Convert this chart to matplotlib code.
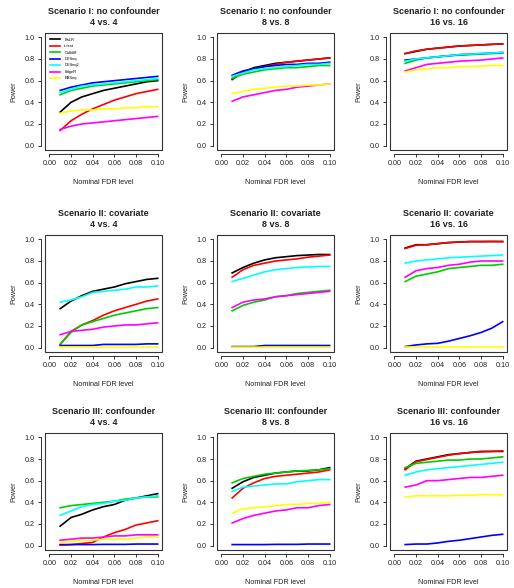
import numpy as np
import matplotlib.pyplot as plt
from matplotlib.patches import Rectangle

plt.rcParams['font.family'] = ['Liberation Sans', 'DejaVu Sans']

# nominal FDR levels
fdr = [0.01, 0.02, 0.03, 0.04, 0.05, 0.06, 0.07, 0.08, 0.09, 0.10]

methods = ['BsLR', 't-test', 'Cuffdiff', 'DESeq', 'DESeq2', 'EdgeR', 'EBSeq']
colors = ['black', 'red', '#00cd00', 'blue', 'cyan', 'magenta', 'yellow']

scenarios = ['Scenario I: no confounder', 'Scenario II: covariate', 'Scenario III: confounder']
sizes = ['4 vs. 4', '8 vs. 8', '16 vs. 16']

# Scenario I
s1_4 = [
    [0.31, 0.40, 0.45, 0.48, 0.51, 0.53, 0.55, 0.57, 0.59, 0.60],
    [0.14, 0.23, 0.29, 0.34, 0.38, 0.42, 0.45, 0.48, 0.50, 0.52],
    [0.47, 0.51, 0.53, 0.55, 0.56, 0.57, 0.58, 0.59, 0.60, 0.61],
    [0.51, 0.54, 0.56, 0.58, 0.59, 0.60, 0.61, 0.62, 0.63, 0.64],
    [0.49, 0.52, 0.55, 0.56, 0.57, 0.58, 0.59, 0.60, 0.61, 0.62],
    [0.15, 0.18, 0.20, 0.21, 0.22, 0.23, 0.24, 0.25, 0.26, 0.27],
    [0.30, 0.32, 0.33, 0.33, 0.34, 0.34, 0.35, 0.35, 0.36, 0.36],
]
s1_8 = [
    [0.61, 0.68, 0.72, 0.74, 0.76, 0.77, 0.78, 0.79, 0.80, 0.81],
    [0.62, 0.68, 0.71, 0.73, 0.75, 0.77, 0.78, 0.79, 0.80, 0.81],
    [0.62, 0.66, 0.68, 0.70, 0.71, 0.72, 0.72, 0.73, 0.74, 0.74],
    [0.65, 0.69, 0.71, 0.73, 0.74, 0.75, 0.75, 0.76, 0.76, 0.77],
    [0.64, 0.67, 0.70, 0.71, 0.72, 0.73, 0.74, 0.75, 0.75, 0.76],
    [0.41, 0.45, 0.47, 0.49, 0.51, 0.52, 0.54, 0.55, 0.56, 0.57],
    [0.48, 0.50, 0.52, 0.53, 0.54, 0.55, 0.55, 0.56, 0.56, 0.57],
]
s1_16 = [
    [0.85, 0.87, 0.89, 0.90, 0.91, 0.92, 0.925, 0.93, 0.935, 0.94],
    [0.85, 0.875, 0.89, 0.90, 0.91, 0.92, 0.925, 0.93, 0.935, 0.94],
    [0.76, 0.79, 0.81, 0.82, 0.83, 0.835, 0.84, 0.845, 0.85, 0.855],
    [0.79, 0.80, 0.81, 0.82, 0.83, 0.84, 0.845, 0.85, 0.855, 0.86],
    [0.78, 0.80, 0.81, 0.82, 0.83, 0.84, 0.845, 0.85, 0.855, 0.86],
    [0.69, 0.72, 0.75, 0.76, 0.77, 0.78, 0.785, 0.79, 0.80, 0.81],
    [0.68, 0.70, 0.71, 0.72, 0.72, 0.73, 0.73, 0.735, 0.74, 0.74],
]

# Scenario II
s2_4 = [
    [0.36, 0.43, 0.48, 0.52, 0.54, 0.56, 0.59, 0.61, 0.63, 0.64],
    [0.03, 0.15, 0.21, 0.25, 0.30, 0.34, 0.37, 0.40, 0.43, 0.45],
    [0.03, 0.14, 0.21, 0.24, 0.27, 0.30, 0.32, 0.34, 0.36, 0.37],
    [0.02, 0.02, 0.02, 0.02, 0.03, 0.03, 0.03, 0.03, 0.035, 0.035],
    [0.42, 0.44, 0.47, 0.51, 0.52, 0.53, 0.54, 0.56, 0.56, 0.57],
    [0.12, 0.15, 0.16, 0.17, 0.19, 0.20, 0.21, 0.21, 0.22, 0.23],
    [0.005, 0.005, 0.005, 0.005, 0.005, 0.005, 0.005, 0.005, 0.005, 0.005],
]
s2_8 = [
    [0.69, 0.74, 0.78, 0.81, 0.83, 0.84, 0.85, 0.855, 0.86, 0.86],
    [0.65, 0.72, 0.76, 0.78, 0.80, 0.81, 0.82, 0.835, 0.845, 0.855],
    [0.34, 0.39, 0.42, 0.44, 0.47, 0.48, 0.50, 0.51, 0.52, 0.53],
    [0.01, 0.01, 0.01, 0.02, 0.02, 0.02, 0.02, 0.02, 0.02, 0.02],
    [0.61, 0.64, 0.67, 0.70, 0.72, 0.73, 0.74, 0.745, 0.75, 0.75],
    [0.37, 0.42, 0.44, 0.45, 0.47, 0.48, 0.49, 0.50, 0.51, 0.52],
    [0.005, 0.005, 0.005, 0.004, 0.004, 0.003, 0.003, 0.003, 0.003, 0.003],
]
s2_16 = [
    [0.92, 0.95, 0.95, 0.96, 0.97, 0.975, 0.98, 0.98, 0.98, 0.98],
    [0.915, 0.945, 0.95, 0.96, 0.97, 0.975, 0.978, 0.978, 0.98, 0.978],
    [0.61, 0.66, 0.68, 0.70, 0.73, 0.74, 0.75, 0.76, 0.76, 0.77],
    [0.01, 0.025, 0.035, 0.04, 0.06, 0.085, 0.11, 0.14, 0.18, 0.24],
    [0.78, 0.80, 0.81, 0.82, 0.83, 0.835, 0.84, 0.845, 0.85, 0.855],
    [0.65, 0.71, 0.73, 0.74, 0.76, 0.77, 0.79, 0.80, 0.80, 0.80],
    [0.005, 0.005, 0.005, 0.005, 0.005, 0.005, 0.005, 0.005, 0.005, 0.005],
]

# Scenario III
s3_4 = [
    [0.18, 0.26, 0.29, 0.33, 0.36, 0.38, 0.42, 0.44, 0.46, 0.48],
    [0.005, 0.01, 0.02, 0.03, 0.08, 0.12, 0.15, 0.19, 0.21, 0.23],
    [0.35, 0.37, 0.38, 0.39, 0.40, 0.41, 0.43, 0.44, 0.45, 0.45],
    [0.01, 0.01, 0.01, 0.01, 0.012, 0.012, 0.012, 0.015, 0.015, 0.015],
    [0.28, 0.32, 0.36, 0.38, 0.39, 0.41, 0.42, 0.44, 0.45, 0.46],
    [0.05, 0.06, 0.07, 0.07, 0.08, 0.09, 0.09, 0.10, 0.10, 0.10],
    [0.03, 0.04, 0.05, 0.05, 0.06, 0.06, 0.06, 0.07, 0.08, 0.08],
]
s3_8 = [
    [0.53, 0.59, 0.63, 0.65, 0.67, 0.68, 0.69, 0.69, 0.70, 0.72],
    [0.44, 0.53, 0.58, 0.62, 0.64, 0.65, 0.66, 0.67, 0.68, 0.70],
    [0.58, 0.62, 0.64, 0.66, 0.67, 0.68, 0.69, 0.695, 0.70, 0.71],
    [0.01, 0.01, 0.01, 0.01, 0.012, 0.012, 0.012, 0.015, 0.015, 0.015],
    [0.50, 0.54, 0.55, 0.56, 0.57, 0.57, 0.59, 0.60, 0.61, 0.61],
    [0.21, 0.25, 0.28, 0.30, 0.32, 0.33, 0.35, 0.35, 0.37, 0.38],
    [0.30, 0.34, 0.35, 0.36, 0.37, 0.38, 0.38, 0.39, 0.39, 0.40],
]
s3_16 = [
    [0.71, 0.78, 0.80, 0.82, 0.84, 0.85, 0.86, 0.87, 0.87, 0.87],
    [0.70, 0.775, 0.795, 0.815, 0.835, 0.85, 0.86, 0.865, 0.87, 0.875],
    [0.72, 0.76, 0.77, 0.78, 0.79, 0.79, 0.80, 0.80, 0.81, 0.82],
    [0.01, 0.015, 0.015, 0.025, 0.04, 0.05, 0.065, 0.08, 0.095, 0.105],
    [0.65, 0.68, 0.70, 0.71, 0.72, 0.73, 0.74, 0.75, 0.76, 0.77],
    [0.54, 0.56, 0.60, 0.60, 0.61, 0.62, 0.63, 0.63, 0.64, 0.65],
    [0.45, 0.46, 0.46, 0.46, 0.46, 0.465, 0.465, 0.47, 0.47, 0.47],
]

panels = [[s1_4, s1_8, s1_16], [s2_4, s2_8, s2_16], [s3_4, s3_8, s3_16]]

W, H = 514, 588
fig = plt.figure(figsize=(W / 100, H / 100), dpi=100)

lefts = [45, 217, 390]
tops = [33, 235, 433]
bw, bh = 117, 117

for r in range(3):
    for c in range(3):
        ax = fig.add_axes([lefts[c] / W, 1 - (tops[r] + bh) / H, bw / W, bh / H])
        for k in range(len(methods)):
            ax.plot(fdr, panels[r][c][k], color=colors[k], lw=1.2, label=methods[k])
        ax.set_xlim(-0.004, 0.104)
        ax.set_ylim(-0.04, 1.04)
        ax.set_xticks(np.arange(0, 0.101, 0.02))
        ax.set_xticklabels(['%.2f' % v for v in np.arange(0, 0.101, 0.02)])
        ax.set_yticks(np.arange(0, 1.01, 0.2))
        ax.set_yticklabels(['%.1f' % v for v in np.arange(0, 1.01, 0.2)])
        # R style: box plus detached axis lines
        for s in ['top', 'right']:
            ax.spines[s].set_visible(False)
        for s in ['left', 'bottom']:
            ax.spines[s].set_position(('outward', 3))
            ax.spines[s].set_linewidth(0.7)
            ax.spines[s].set_color('#333333')
        ax.spines['left'].set_bounds(0, 1)
        ax.spines['bottom'].set_bounds(0, 0.1)
        ax.add_patch(Rectangle((0, 0), 1, 1, transform=ax.transAxes, fill=False,
                               lw=0.8, edgecolor='#333333', clip_on=False))
        ax.tick_params(labelsize=5.2, length=2.5, width=0.7, color='#333333',
                       labelcolor='#222222', pad=2)
        ax.set_xlabel('Nominal FDR level', fontsize=5.2, color='#222222', labelpad=8)
        ax.set_ylabel('Power', fontsize=5.2, color='#222222', labelpad=5)
        ax.set_title(scenarios[r] + '\n' + sizes[c], fontsize=6.5, fontweight='bold',
                     color='#222222', pad=6, linespacing=1.2)
        if r == 0 and c == 0:
            ax.legend(loc='upper left', bbox_to_anchor=(0.0, 1.0), fontsize=2.9,
                      frameon=False, handlelength=2.6, handletextpad=1.0,
                      labelspacing=0.6, borderaxespad=0.8, borderpad=0.4)

fig.savefig('out.png', dpi=100)
